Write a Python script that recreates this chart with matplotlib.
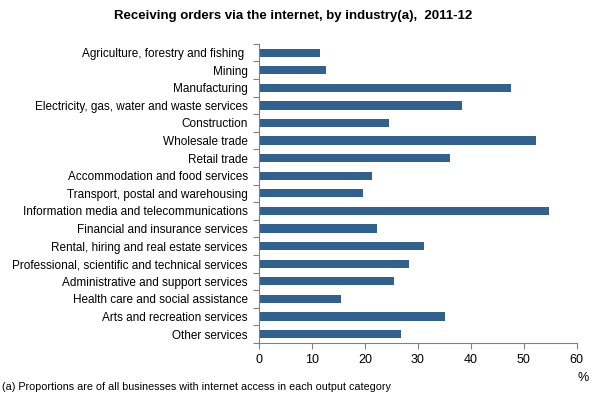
import numpy as np
import matplotlib.pyplot as plt
from matplotlib import rcParams

rcParams['font.family'] = ['Liberation Sans', 'DejaVu Sans']
rcParams['font.size'] = 8.5

industries = [
    'Agriculture, forestry and fishing ',
    'Mining',
    'Manufacturing',
    'Electricity, gas, water and waste services',
    'Construction',
    'Wholesale trade',
    'Retail trade',
    'Accommodation and food services',
    'Transport, postal and warehousing',
    'Information media and telecommunications',
    'Financial and insurance services',
    'Rental, hiring and real estate services',
    'Professional, scientific and technical services',
    'Administrative and support services',
    'Health care and social assistance',
    'Arts and recreation services',
    'Other services',
]
values = [11.5, 12.7, 47.6, 38.3, 24.6, 52.3, 36.1, 21.3, 19.6,
          54.8, 22.3, 31.1, 28.3, 25.5, 15.5, 35.1, 26.8]
xticks = [0, 10, 20, 30, 40, 50, 60]

fig = plt.figure(figsize=(5.94, 3.95), dpi=100)
ax = fig.add_axes([0.436, 0.132, 0.535, 0.757])

y = np.arange(len(industries))
ax.barh(y, values, height=0.47, color='#31628f')

ax.set_ylim(len(industries) - 0.5, -0.5)
ax.set_yticks(y)
ax.set_yticklabels(industries)
ax.set_yticks(np.arange(len(industries) + 1) - 0.5, minor=True)
ax.tick_params(axis='y', which='major', length=0, pad=8)
ax.tick_params(axis='y', which='minor', length=4, color='#808080', width=0.8)

ax.set_xlim(0, 60)
ax.set_xticks(xticks)
ax.tick_params(axis='x', length=4, color='#808080', width=0.8, pad=4, labelsize=9)

for side in ['top', 'right']:
    ax.spines[side].set_visible(False)
for side in ['left', 'bottom']:
    ax.spines[side].set_color('#808080')
    ax.spines[side].set_linewidth(0.8)

fig.text(0.493, 0.975, 'Receiving orders via the internet, by industry(a),  2011-12',
         ha='center', va='top', fontsize=9.5, fontweight='bold')
fig.text(0.992, 0.028, '%', ha='right', va='bottom', fontsize=9)
fig.text(0.004, 0.008, '(a) Proportions are of all businesses with internet access in each output category',
         ha='left', va='bottom', fontsize=7.75)

plt.savefig('out.png', dpi=100)
